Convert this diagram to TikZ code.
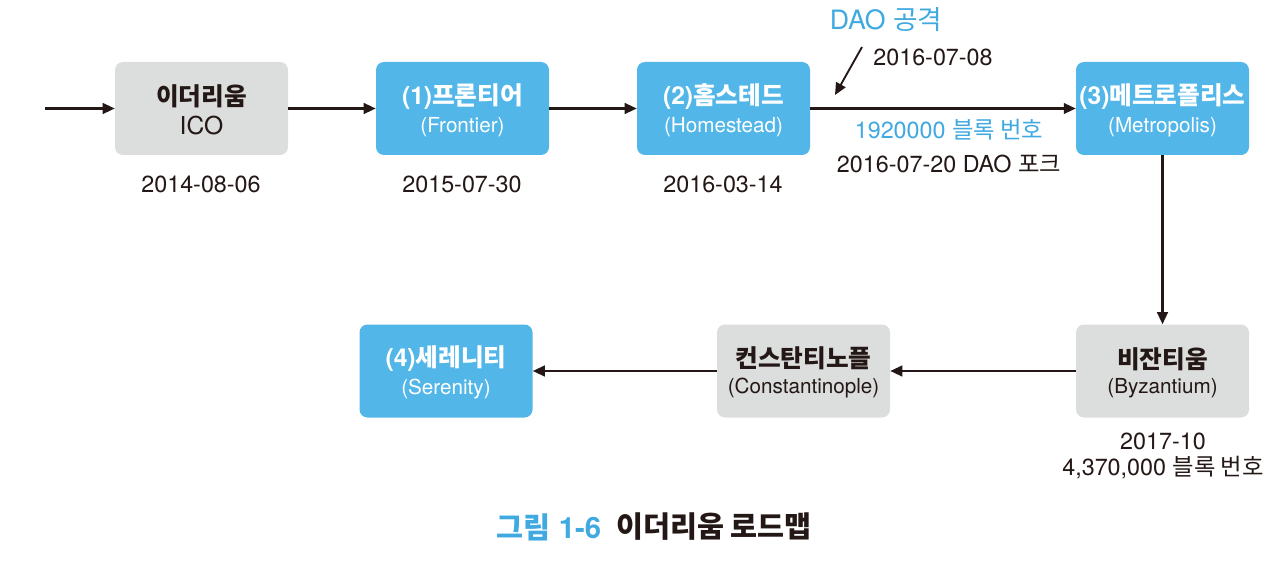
\documentclass[tikz,border=0pt]{standalone}
\usepackage{fontspec}
\setmainfont{TeX Gyre Heros}
\newfontfamily\kr{Noto Sans CJK KR}
\usetikzlibrary{arrows.meta}
\definecolor{boxblue}{HTML}{52B7E8}
\definecolor{boxgray}{HTML}{DCDDDD}
\definecolor{txtblue}{HTML}{3FA9E0}
\definecolor{ink}{HTML}{231815}
\newcommand{\ttlfont}{\fontsize{18.5}{22}\selectfont}
\newcommand{\subfont}{\fontsize{15.5}{19}\selectfont}
\newcommand{\datefont}{\fontsize{17.5}{21}\selectfont}
\newcommand{\capfont}{\fontsize{22}{26}\selectfont}
\newcommand{\lowstrut}{\rule{0pt}{18pt}}
\tikzset{
  box/.style={rounded corners=6pt, minimum width=129.75pt, minimum height=69.75pt, align=center, inner sep=0pt},
  graybox/.style={box, fill=boxgray, text=ink},
  bluebox/.style={box, fill=boxblue, text=white},
  arr/.style={-{Triangle[length=9pt,width=8pt]}, line width=1.6pt, draw=ink},
  lbl/.style={inner sep=0pt, text=ink, align=center},
  bluelbl/.style={inner sep=0pt, text=txtblue, align=center},
}
\begin{document}
\begin{tikzpicture}[x=0.75pt,y=-0.75pt]
\useasboundingbox (0,0) rectangle (1280,574);
% boxes
\node[graybox] (ico) at (201.5,108.5) {\lowstrut{\kr\bfseries\ttlfont 이더리움}\\[5pt]{\ttlfont ICO}};
\node[bluebox] (fr) at (462.5,108.5) {\lowstrut{\bfseries\ttlfont (1)\kr 프론티어}\\[5pt]{\subfont (Frontier)}};
\node[bluebox] (hs) at (723.5,108.5) {\lowstrut{\bfseries\ttlfont (2)\kr 홈스테드}\\[5pt]{\subfont (Homestead)}};
\node[bluebox] (mp) at (1162.5,108.5) {\lowstrut{\bfseries\ttlfont (3)\kr 메트로폴리스}\\[5pt]{\subfont (Metropolis)}};
\node[graybox] (bz) at (1162.5,371) {\lowstrut{\kr\bfseries\ttlfont 비잔티움}\\[5pt]{\subfont (Byzantium)}};
\node[graybox] (cs) at (803.5,371) {\lowstrut{\kr\bfseries\ttlfont 컨스탄티노플}\\[5pt]{\subfont (Constantinople)}};
\node[bluebox] (sr) at (446,371) {\lowstrut{\bfseries\ttlfont (4)\kr 세레니티}\\[5pt]{\subfont (Serenity)}};
% connectors
\coordinate (start) at (45,108.5);
\draw[arr] (start) -- (ico);
\draw[arr] (ico) -- (fr);
\draw[arr] (fr) -- (hs);
\draw[arr] (hs) -- (mp);
\draw[arr] (mp) -- (bz);
\draw[arr] (bz) -- (cs);
\draw[arr] (cs) -- (sr);
% dates
\node[lbl] (d1) at (201,184) {\datefont 2014-08-06};
\node[lbl] (d2) at (462,184) {\datefont 2015-07-30};
\node[lbl] (d3) at (723,184) {\datefont 2016-03-14};
% DAO attack
\node[bluelbl] (dao) at (886,20) {\fontsize{20}{24}\selectfont DAO {\kr 공격}};
\node[lbl] (daod) at (933,57) {\datefont 2016-07-08};
\coordinate (daoA) at (862,47);
\coordinate (daoB) at (835,95);
\draw[arr, line width=1.4pt] (daoA) -- (daoB);
\node[bluelbl] (blk1) at (949,130) {\datefont 1920000 {\kr 블록 번호}};
\node[lbl] (fork) at (949,164) {\datefont 2016-07-20 DAO {\kr 포크}};
% Byzantium info
\node[lbl] (bzd) at (1163,441) {\datefont 2017-10};
\node[lbl] (bzb) at (1163,468) {\datefont 4,370,000 {\kr 블록 번호}};
% caption
\node[bluelbl] (cap1) at (549,527) {\bfseries\capfont {\kr 그림} 1-6};
\node[lbl] (cap2) at (714,527) {\kr\bfseries\capfont 이더리움 로드맵};
\end{tikzpicture}
\end{document}
